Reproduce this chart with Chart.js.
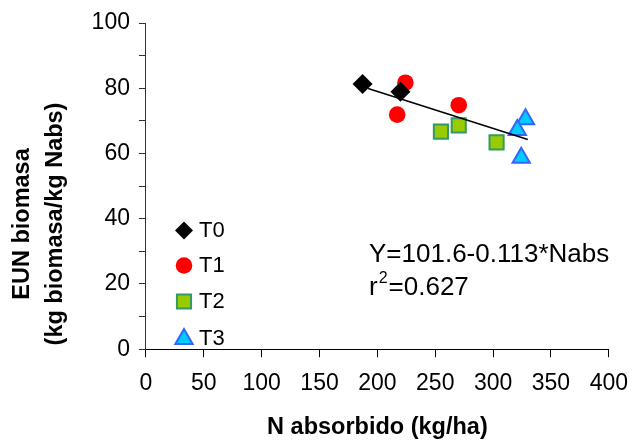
<!DOCTYPE html>
<html>
<head>
<meta charset="utf-8">
<script src="https://cdn.jsdelivr.net/npm/chart.js@4/dist/chart.umd.min.js"></script>
<style>
  html, body { margin: 0; padding: 0; background: #fff; }
  #wrap { width: 641px; height: 443px; }
</style>
</head>
<body>
<div id="wrap"><canvas id="eun-chart"></canvas></div>
<script>
// N absorbido (kg/ha) vs EUN biomasa, one array pair per treatment
const t0X = [187.2, 219.9];
const t0Y = [81.3, 78.9];
const t1X = [224.2, 217.1, 270.3];
const t1Y = [81.7, 71.9, 74.8];
const t2X = [254.9, 270.3, 303.0];
const t2Y = [66.7, 68.6, 63.4];
const t3X = [328.0, 320.9, 324.3];
const t3Y = [70.5, 67.2, 58.7];

// fitted line Y = 101.6 - 0.113*Nabs, ends of the drawn segment
const fitX = [192, 330];
const fitY = [79.9, 64.3];

const treatments = ['T0', 'T1', 'T2', 'T3'];
const equation = 'Y=101.6-0.113*Nabs';
const rSquared = '=0.627';
const yTitle = ['EUN biomasa', '(kg biomasa/kg Nabs)'];

const font = 'Liberation Sans, Arial, Helvetica, sans-serif';

function toPoints(xs, ys) {
    return xs.map((x, i) => ({ x: x, y: ys[i] }));
}

const markers = [
    { pointStyle: 'rectRot', radius: 10, fill: '#000000', stroke: '#000000', border: 0 },
    { pointStyle: 'circle', radius: 8.3, fill: '#ff0000', stroke: '#ff0000', border: 0 },
    { pointStyle: 'rect', radius: 10, fill: '#99cc00', stroke: '#339966', border: 2 },
    { pointStyle: 'triangle', radius: 10, fill: '#00ccff', stroke: '#3366ff', border: 2 }
];

const series = [toPoints(t0X, t0Y), toPoints(t1X, t1Y), toPoints(t2X, t2Y), toPoints(t3X, t3Y)];

const datasets = series.map((pts, i) => ({
    label: treatments[i],
    data: pts,
    pointStyle: markers[i].pointStyle,
    pointRadius: markers[i].radius,
    pointHoverRadius: markers[i].radius,
    backgroundColor: markers[i].fill,
    borderColor: markers[i].stroke,
    pointBorderWidth: markers[i].border,
    showLine: false,
    order: 1
}));

datasets.push({
    label: 'ajuste',
    data: toPoints(fitX, fitY),
    showLine: true,
    borderColor: '#000000',
    borderWidth: 1.5,
    pointRadius: 0,
    order: 0
});

// y title, legend box and regression text drawn by hand
const notesPlugin = {
    id: 'notes',
    afterDraw(chart) {
        const ctx = chart.ctx;
        ctx.save();

        // two-line rotated y title, centred a bit below the plot middle
        ctx.save();
        ctx.translate(0, 224);
        ctx.rotate(-Math.PI / 2);
        ctx.fillStyle = '#000';
        ctx.font = 'bold 23.5px ' + font;
        ctx.textAlign = 'center';
        ctx.textBaseline = 'middle';
        ctx.fillText(yTitle[0], 0, 23);
        ctx.fillText(yTitle[1], 0, 56);
        ctx.restore();

        const rowY = [230.5, 265.5, 301.5, 339];
        markers.forEach((m, i) => {
            ctx.fillStyle = m.fill;
            ctx.strokeStyle = m.stroke;
            ctx.lineWidth = m.border;
            const r = i === 0 ? 9 : m.radius;
            Chart.helpers.drawPoint(ctx, { pointStyle: m.pointStyle, radius: r, rotation: 0, borderWidth: m.border }, 184, rowY[i]);
            ctx.fillStyle = '#000';
            ctx.font = '22px ' + font;
            ctx.textBaseline = 'middle';
            ctx.textAlign = 'left';
            ctx.fillText(treatments[i], 199, rowY[i]);
        });

        ctx.fillStyle = '#000';
        ctx.textBaseline = 'alphabetic';
        ctx.font = '26px ' + font;
        ctx.fillText(equation, 369, 262);
        ctx.fillText('r', 369, 295);
        const rW = ctx.measureText('r').width;
        ctx.font = '16px ' + font;
        ctx.fillText('2', 369 + rW + 1, 283);
        const sW = ctx.measureText('2').width;
        ctx.font = '26px ' + font;
        ctx.fillText(rSquared, 369 + rW + sW + 2, 295);
        ctx.restore();
    }
};

new Chart(document.getElementById('eun-chart'), {
    type: 'scatter',
    data: { datasets: datasets },
    options: {
        responsive: true,
        maintainAspectRatio: false,
        animation: false,
        events: [],
        layout: { padding: { left: 82.6, right: 24, top: 23, bottom: 0 } },
        plugins: {
            legend: { display: false },
            tooltip: { enabled: false }
        },
        scales: {
            x: {
                type: 'linear',
                min: 0,
                max: 400,
                ticks: { stepSize: 50, color: '#000', padding: 13, font: { family: font, size: 23 }, maxRotation: 0 },
                grid: { display: true, drawOnChartArea: false, drawTicks: true, tickLength: 8, color: '#000' },
                border: { display: true, color: '#000', width: 1 },
                title: {
                    display: true,
                    text: 'N absorbido (kg/ha)',
                    color: '#000',
                    font: { family: font, size: 23.5, weight: 'bold' },
                    padding: { top: 3, bottom: 1 }
                }
            },
            y: {
                type: 'linear',
                min: 0,
                max: 100,
                ticks: {
                    stepSize: 10,
                    color: '#000',
                    padding: 9,
                    font: { family: font, size: 23 },
                    callback: v => (v % 20 === 0 ? String(v) : '')
                },
                grid: { display: true, drawOnChartArea: false, drawTicks: true, tickLength: 7, color: '#333' },
                border: { display: true, color: '#333', width: 1 },
                title: { display: false }
            }
        }
    },
    plugins: [notesPlugin]
});
</script>
</body>
</html>
